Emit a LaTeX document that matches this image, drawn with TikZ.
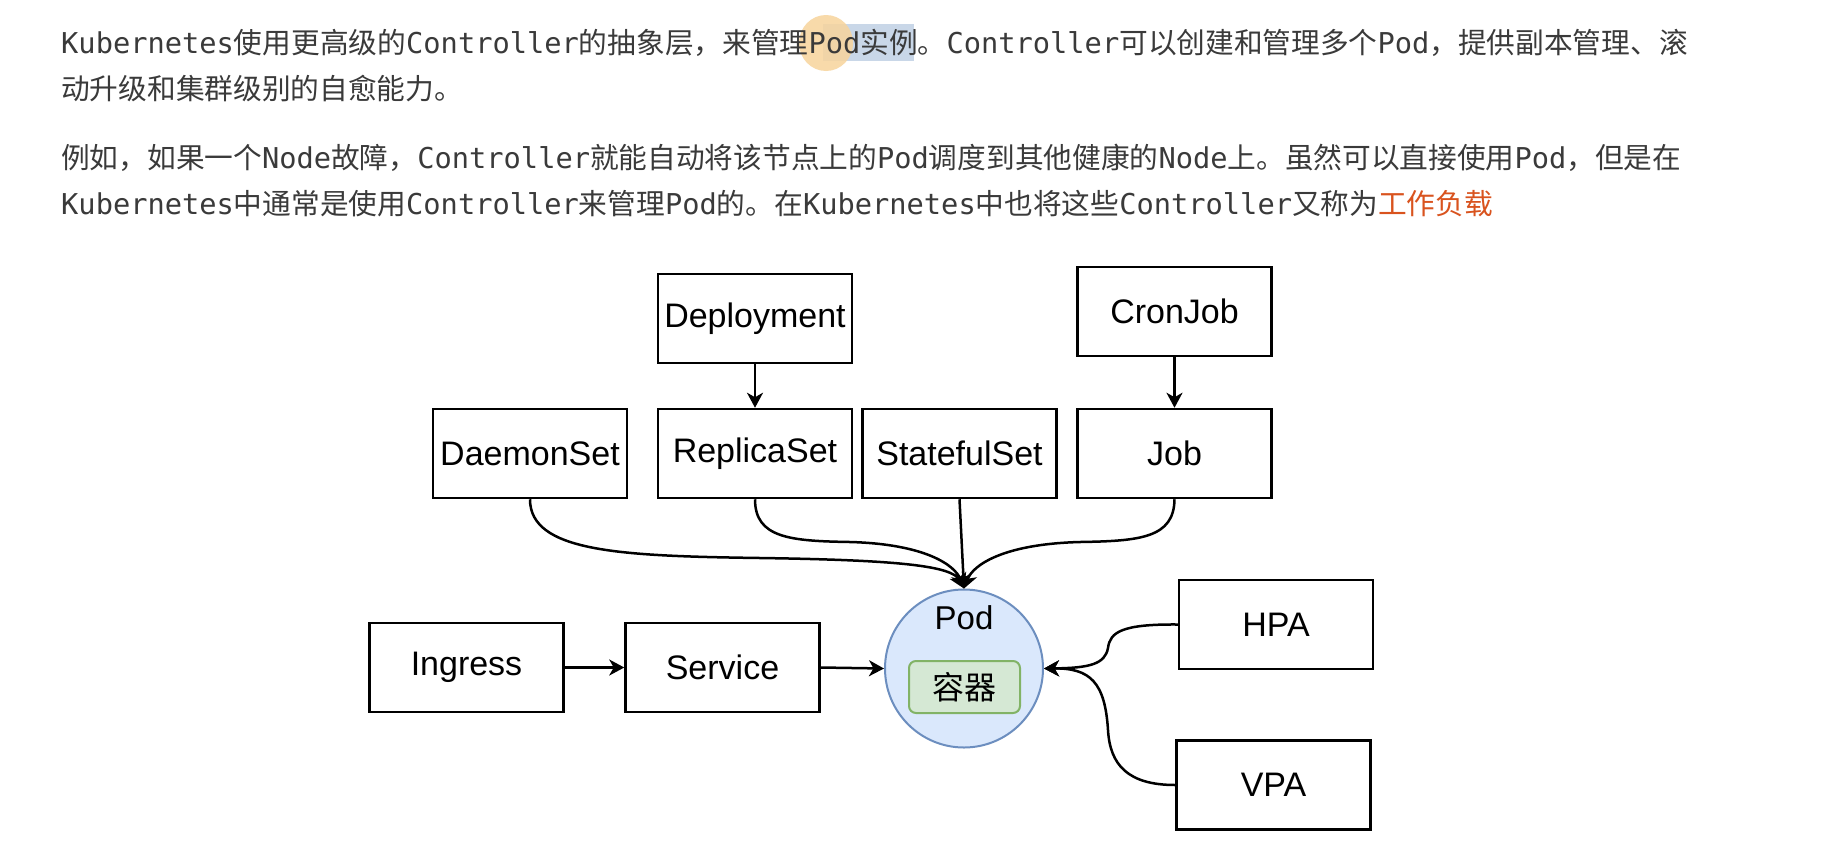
\documentclass[tikz,border=0pt]{standalone}
\usepackage{fontspec}
\setmainfont{Liberation Sans}
\newfontfamily\cjkfont{Noto Sans CJK SC}
\newfontfamily\monofont{DejaVu Sans Mono}
\newcommand\lat[1]{{\monofont #1}}
\usetikzlibrary{arrows.meta}
\definecolor{textgray}{HTML}{3A3A3A}
\definecolor{hlorange}{HTML}{D9531E}
\definecolor{podfill}{HTML}{DAE8FC}
\definecolor{podline}{HTML}{6C8EBF}
\definecolor{ctfill}{HTML}{D5E8D4}
\definecolor{ctline}{HTML}{82B366}
\definecolor{selblue}{HTML}{C9D7E8}
\definecolor{cursor}{HTML}{F7D49C}
\begin{document}
\begin{tikzpicture}[x=1pt,y=-1pt,
  txt/.style={font=\cjkfont\fontsize{28.7}{34}\selectfont, text=textgray, inner sep=0pt, anchor=base west},
  box/.style={draw=black, line width=2.5pt, fill=white, minimum width=194pt, minimum height=89pt, inner sep=0pt, font=\fontsize{34}{39}\selectfont},
  edge/.style={line width=2.5pt, -{Stealth[length=15pt,width=16pt,inset=4.5pt]}},
]
\useasboundingbox[fill=white] (0,0) rectangle (1842,847);

% screenshot artifacts (selection and cursor highlight)
\fill[selblue] (823,24) rectangle (914,61);
\fill[cursor, opacity=0.85] (826,43) ellipse (27pt and 28pt);

% text
\node[txt] (l1) at (61,53) {\lat{Kubernetes}使用更高级的\lat{Controller}的抽象层，来管理\lat{Pod}实例。\lat{Controller}可以创建和管理多个\lat{Pod}，提供副本管理、滚};
\node[txt] (l2) at (61,99) {动升级和集群级别的自愈能力。};
\node[txt] (l3) at (61,168) {例如，如果一个\lat{Node}故障，\lat{Controller}就能自动将该节点上的\lat{Pod}调度到其他健康的\lat{Node}上。虽然可以直接使用\lat{Pod}，但是在};
\node[txt] (l4) at (61,214) {\lat{Kubernetes}中通常是使用\lat{Controller}来管理\lat{Pod}的。在\lat{Kubernetes}中也将这些\lat{Controller}又称为\textcolor{hlorange}{工作负载}};

% boxes
\node[box] (dep) at (755,318.5) {Deployment};
\node[box] (cron) at (1174.5,311.5) {CronJob};
\node[box] (ds) at (530,453.5) {DaemonSet};
\node[box] (rs) at (755,453.5) {ReplicaSet};
\node[box] (ss) at (959.5,453.5) {StatefulSet};
\node[box] (job) at (1174.5,453.5) {Job};
\node[box] (ing) at (466.5,667.5) {Ingress};
\node[box] (svc) at (722.5,667.5) {Service};
\node[box] (hpa) at (1276,624.5) {HPA};
\node[box] (vpa) at (1273.5,785) {VPA};

% pod
\node[circle, draw=podline, fill=podfill, line width=2pt, minimum size=158pt, inner sep=0pt] (pod) at (964,668.5) {};
\node[font=\fontsize{33}{38}\selectfont, inner sep=0pt] (podlbl) at (964,618) {Pod};
\node[draw=ctline, fill=ctfill, line width=2pt, rounded corners=7pt, minimum width=111pt, minimum height=52pt, inner sep=0pt, font=\cjkfont\fontsize{32}{36}\selectfont] (ct) at (964.5,687) {容器};

% edges
\draw[edge] (dep.south) -- (rs.north);
\draw[edge] (cron.south) -- (job.north);
\draw[edge] (ing.east) -- (svc.west);
\draw[edge] (svc.east) -- (pod.west);
\draw[edge] (ss.south) -- (pod.north);
\draw[edge] (ds.south) .. controls (530,552) and (620,556) .. (760,558) .. controls (900,560) and (952,566) .. (pod.north);
\draw[edge] (rs.south) .. controls (755,538) and (790,541) .. (850,542) .. controls (925,544) and (955,565) .. (pod.north);
\draw[edge] (job.south) .. controls (1174,538) and (1140,541) .. (1080,542) .. controls (1003,544) and (973,565) .. (pod.north);
\draw[edge] (hpa.west) .. controls (1122,624) and (1110,632) .. (1108,648) .. controls (1105,664) and (1090,668) .. (pod.east);
\draw[edge] (vpa.west) .. controls (1128,785) and (1110,765) .. (1108,730) .. controls (1105,682) and (1090,668) .. (pod.east);
\end{tikzpicture}
\end{document}
